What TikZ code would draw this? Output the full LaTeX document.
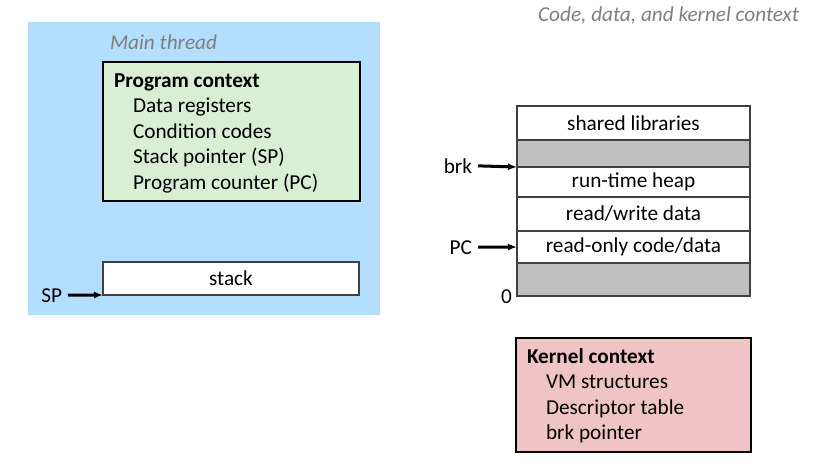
\documentclass[tikz,border=0pt]{standalone}
\usepackage{fontspec}
\setmainfont{Carlito}
\usetikzlibrary{positioning,arrows.meta}
\definecolor{threadblue}{RGB}{180,222,254}
\definecolor{ctxgreen}{RGB}{216,239,211}
\definecolor{kernelpink}{RGB}{240,196,196}
\definecolor{segshade}{RGB}{191,191,191}
\definecolor{capgray}{RGB}{127,127,127}
\newcommand{\figfont}{\fontsize{21.25}{25}\selectfont}

\begin{document}
\begin{tikzpicture}[x=1pt, y=-1pt, every node/.style={font=\figfont, inner sep=0pt, outer sep=0pt},
    caption/.style={font=\figfont\itshape, text=capgray},
    ctxbox/.style={draw=black, line width=1.8pt},
    seg/.style={draw=black!75, line width=1.3pt, fill=white, minimum width=233pt},
    ptr/.style={draw=black, line width=3pt, -{Latex[length=9pt,width=7pt]}, shorten <=6pt}]
    \useasboundingbox (0,0) rectangle (825,469);

    % main thread
    \node[fill=threadblue, minimum width=352pt, minimum height=293pt, anchor=north west] (thread) at (28,22) {};
    \node[caption, anchor=base west] (threadlbl) at (110,49) {Main thread};
    \node[ctxbox, fill=ctxgreen, minimum width=257pt, minimum height=139pt, anchor=north west] (prog) at (103,62) {};
    \node[font=\figfont\bfseries, anchor=base west] (progtitle) at (114,87) {Program context};
    \foreach \txt [count=\i] in {Data registers, Condition codes, Stack pointer (SP), Program counter (PC)}
        \node[anchor=base west] (prog\i) at (133,{87+25.5*\i}) {\txt};
    \node[draw=black!75, line width=1.2pt, fill=white, minimum width=256pt, minimum height=33pt, anchor=north west] (stack) at (103,262) {stack};
    \node[anchor=base east] (sp) at (62,302) {SP};
    \draw[ptr] (sp.east) -- (stack.south west);

    % address space
    \node[caption, anchor=base east] (title) at (799,21) {Code, data, and kernel context};
    \node[seg, minimum height=34pt, anchor=north] (shlib) at (633.5,106) {shared libraries};
    \node[seg, fill=segshade, minimum height=27pt, below=0pt of shlib] (gap1) {};
    \node[seg, minimum height=30pt, below=0pt of gap1] (heap) {run-time heap};
    \node[seg, minimum height=34pt, below=0pt of heap] (rwdata) {read/write data};
    \node[seg, minimum height=32pt, below=0pt of rwdata] (rodata) {read-only code/data};
    \node[seg, fill=segshade, minimum height=33pt, below=0pt of rodata] (gap2) {};
    \node[anchor=base east] (brk) at (472,173) {brk};
    \node[anchor=base east] (pc) at (472,254) {PC};
    \node[anchor=base east] (zero) at (512,303) {0};
    \draw[ptr] (brk.east) -- (heap.north west);
    \draw[ptr] (pc.east) -- (rodata.west);

    % kernel context
    \node[ctxbox, fill=kernelpink, minimum width=235pt, minimum height=114pt, anchor=north west] (kernel) at (516,338) {};
    \node[font=\figfont\bfseries, anchor=base west] (kerneltitle) at (527,363) {Kernel context};
    \foreach \txt [count=\i] in {VM structures, Descriptor table, brk pointer}
        \node[anchor=base west] (kernel\i) at (546,{363+25.5*\i}) {\txt};
\end{tikzpicture}
\end{document}
